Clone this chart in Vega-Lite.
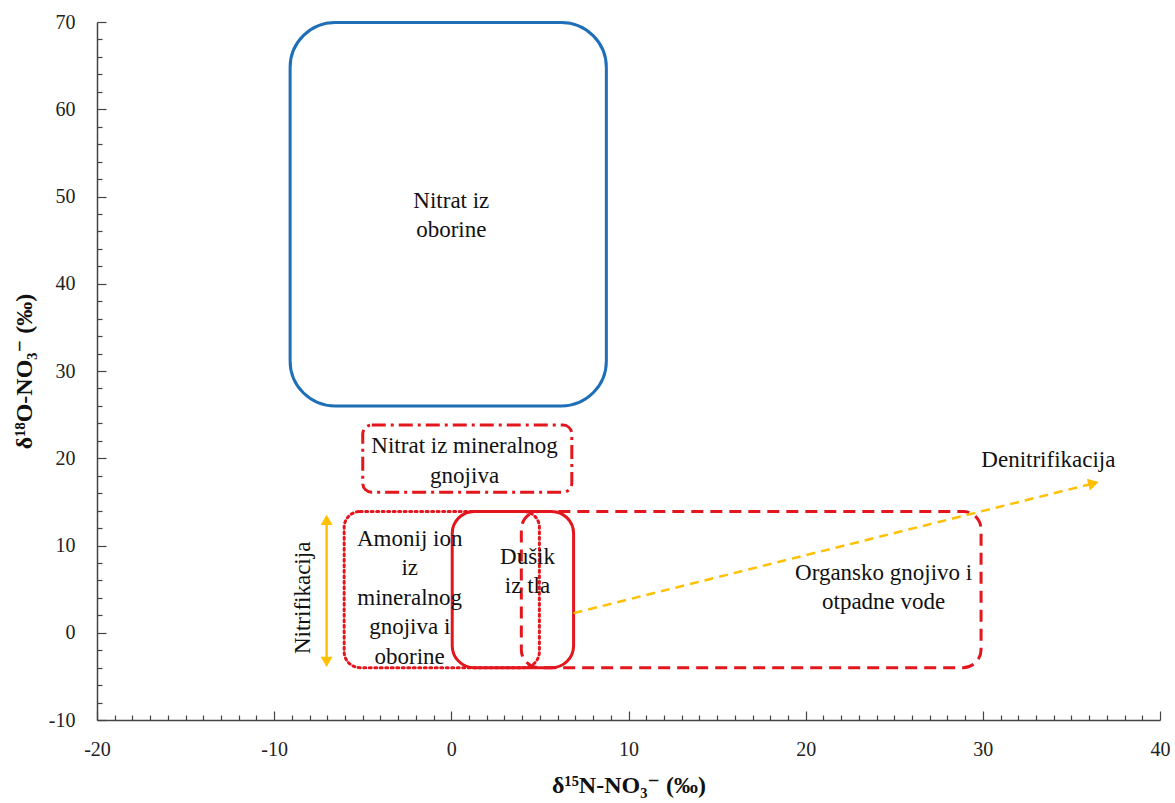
{
  "$schema": "https://vega.github.io/schema/vega-lite/v6.json",
  "width": 1063,
  "height": 698,
  "autosize": "none",
  "padding": {"left": 97, "top": 22, "right": 15, "bottom": 83},
  "background": "white",
  "config": {
    "view": {"stroke": null},
    "font": "'Liberation Serif', 'Times New Roman', 'DejaVu Serif', serif",
    "text": {"font": "'Liberation Serif', 'Times New Roman', 'DejaVu Serif', serif", "fontSize": 23, "color": "#111", "lineBreak": "\n", "lineHeight": 29.5}
  },
  "encoding": {
    "x": {
      "field": "x", "type": "quantitative",
      "scale": {"domain": [-20, 40], "nice": false, "zero": false},
      "axis": {
        "title": "δ¹⁵N-NO₃⁻ (‰)",
        "values": [-20,-19,-18,-17,-16,-15,-14,-13,-12,-11,-10,-9,-8,-7,-6,-5,-4,-3,-2,-1,0,1,2,3,4,5,6,7,8,9,10,11,12,13,14,15,16,17,18,19,20,21,22,23,24,25,26,27,28,29,30,31,32,33,34,35,36,37,38,39,40],
        "labelExpr": "datum.value % 10 === 0 ? '' + datum.value : ''",
        "tickSize": {"condition": {"test": "datum.value % 10 === 0", "value": -9}, "value": -5},
        "grid": false, "labelOverlap": false, "labelFlush": false, "labelBound": false,
        "domainColor": "#444", "domainWidth": 1.5, "tickColor": "#444", "tickWidth": 1.2,
        "labelFont": "'Liberation Serif', 'Times New Roman', 'DejaVu Serif', serif", "labelFontSize": 20, "labelColor": "#222", "labelPadding": 28,
        "titleFont": "'Liberation Serif', 'Times New Roman', 'DejaVu Serif', serif", "titleFontSize": 24, "titleFontWeight": "bold", "titleColor": "#111", "titlePadding": 10
      }
    },
    "y": {
      "field": "y", "type": "quantitative",
      "scale": {"domain": [-10, 70], "nice": false, "zero": false},
      "axis": {
        "title": "δ¹⁸O-NO₃⁻ (‰)",
        "values": [-10,-8,-6,-4,-2,0,2,4,6,8,10,12,14,16,18,20,22,24,26,28,30,32,34,36,38,40,42,44,46,48,50,52,54,56,58,60,62,64,66,68,70],
        "labelExpr": "datum.value % 10 === 0 ? '' + datum.value : ''",
        "tickSize": {"condition": {"test": "datum.value % 10 === 0", "value": -9}, "value": -5},
        "grid": false, "labelOverlap": false, "labelFlush": false, "labelBound": false,
        "domainColor": "#444", "domainWidth": 1.5, "tickColor": "#444", "tickWidth": 1.2,
        "labelFont": "'Liberation Serif', 'Times New Roman', 'DejaVu Serif', serif", "labelFontSize": 20, "labelColor": "#222", "labelPadding": 31,
        "titleFont": "'Liberation Serif', 'Times New Roman', 'DejaVu Serif', serif", "titleFontSize": 24, "titleFontWeight": "bold", "titleColor": "#111", "titlePadding": 12
      }
    }
  },
  "layer": [
    {
      "data": {"values": [{"name": "Amonij ion", "x": -6.05, "x2": 4.97, "y": -4, "y2": 13.9}]},
      "mark": {"type": "rect", "filled": false, "color": "#E3161D", "strokeWidth": 3, "strokeDash": [2, 3.5], "strokeCap": "round", "cornerRadius": 16},
      "encoding": {"x2": {"field": "x2"}, "y2": {"field": "y2"}}
    },
    {
      "data": {"values": [{"name": "Organsko", "x": 3.95, "x2": 29.9, "y": -4, "y2": 13.9}]},
      "mark": {"type": "rect", "filled": false, "color": "#E3161D", "strokeWidth": 3, "strokeDash": [12, 7], "cornerRadius": 18},
      "encoding": {"x2": {"field": "x2"}, "y2": {"field": "y2"}}
    },
    {
      "data": {"values": [{"name": "Dusik", "x": 0.05, "x2": 6.9, "y": -4, "y2": 13.9}]},
      "mark": {"type": "rect", "filled": false, "color": "#E3161D", "strokeWidth": 3, "cornerRadius": 22},
      "encoding": {"x2": {"field": "x2"}, "y2": {"field": "y2"}}
    },
    {
      "data": {"values": [{"name": "Mineralno", "x": -5.0, "x2": 6.8, "y": 16.1, "y2": 23.8}]},
      "mark": {"type": "rect", "filled": false, "color": "#E3161D", "strokeWidth": 3, "strokeDash": [14, 5, 3, 5], "cornerRadius": 9},
      "encoding": {"x2": {"field": "x2"}, "y2": {"field": "y2"}}
    },
    {
      "data": {"values": [{"name": "Oborina", "x": -9.1, "x2": 8.75, "y": 26.0, "y2": 69.95}]},
      "mark": {"type": "rect", "filled": false, "color": "#1F6FB8", "strokeWidth": 3, "cornerRadius": 45},
      "encoding": {"x2": {"field": "x2"}, "y2": {"field": "y2"}}
    },
    {
      "data": {"values": [{"x": -7.04, "y": -3.3, "y2": 12.9}]},
      "mark": {"type": "rule", "color": "#FFC000", "strokeWidth": 2.5},
      "encoding": {"y2": {"field": "y2"}}
    },
    {
      "data": {"values": [{"x": -7.04, "y": 12.95}]},
      "mark": {"type": "point", "shape": "triangle-up", "filled": true, "color": "#FFC000", "size": 140, "opacity": 1},
      "encoding": {}
    },
    {
      "data": {"values": [{"x": -7.04, "y": -3.35}]},
      "mark": {"type": "point", "shape": "triangle-down", "filled": true, "color": "#FFC000", "size": 140, "opacity": 1},
      "encoding": {}
    },
    {
      "data": {"values": [{"x": 6.9, "y": 2.25, "x2": 36.1, "y2": 17.05}]},
      "mark": {"type": "rule", "color": "#FFC000", "strokeWidth": 2.5, "strokeDash": [9, 6]},
      "encoding": {"x2": {"field": "x2"}, "y2": {"field": "y2"}}
    },
    {
      "data": {"values": [{"x": 36.25, "y": 17.12}]},
      "mark": {"type": "point", "shape": "triangle-right", "angle": -14, "filled": true, "color": "#FFC000", "size": 150, "opacity": 1},
      "encoding": {}
    },
    {
      "data": {"values": [
        {"x": 0.0, "y": 49.5, "label": "Nitrat iz\noborine"},
        {"x": 0.75, "y": 21.4, "label": "Nitrat iz mineralnog\ngnojiva"},
        {"x": -2.35, "y": 10.8, "label": "Amonij ion\niz\nmineralnog\ngnojiva i\noborine"},
        {"x": 4.3, "y": 8.7, "label": "Dušik\niz tla"},
        {"x": 24.4, "y": 6.9, "label": "Organsko gnojivo i\notpadne vode"},
        {"x": 33.7, "y": 19.8, "label": "Denitrifikacija"}
      ]},
      "mark": {"type": "text", "align": "center", "baseline": "middle"},
      "encoding": {"text": {"field": "label"}}
    },
    {
      "data": {"values": [{"x": -8.4, "y": 4.0, "label": "Nitrifikacija"}]},
      "mark": {"type": "text", "align": "center", "baseline": "middle", "angle": 270},
      "encoding": {"text": {"field": "label"}}
    }
  ]
}
